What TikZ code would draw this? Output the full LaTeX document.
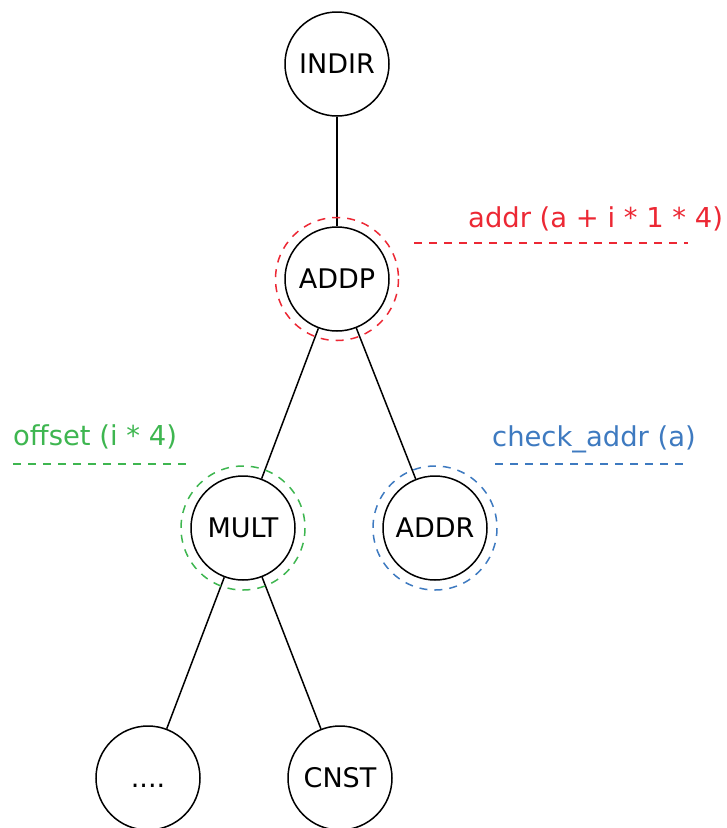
\documentclass[tikz,border=0pt]{standalone}
\usepackage{fontspec}
\setmainfont{DejaVu Sans}
\definecolor{annred}{RGB}{236,40,52}
\definecolor{anngreen}{RGB}{62,182,80}
\definecolor{annblue}{RGB}{62,122,192}
\begin{document}
\begin{tikzpicture}[x=1pt,y=-1pt,
  treenode/.style={circle,draw,line width=1.5pt,minimum size=104pt,inner sep=0pt,
    font=\fontsize{27}{32}\selectfont,text height=19.7pt,text depth=0pt},
  edge/.style={line width=1.5pt},
  ring/.style={line width=1.5pt,dash pattern=on 8pt off 7pt},
  ann/.style={anchor=base west,inner sep=0pt,font=\fontsize{27.4}{32}\selectfont}]
\useasboundingbox (0,0) rectangle (727,828);

% tree nodes
\node[treenode] (indir) at (337,64)  {INDIR};
\node[treenode] (addp)  at (337,279) {ADDP};
\node[treenode] (mult)  at (243,528) {MULT};
\node[treenode] (addr)  at (435,528) {ADDR};
\node[treenode] (dots)  at (148,778) {....};
\node[treenode] (cnst)  at (340,778) {CNST};

% tree edges
\draw[edge] (indir) -- (addp);
\draw[edge] (addp) -- (mult);
\draw[edge] (addp) -- (addr);
\draw[edge] (mult) -- (dots);
\draw[edge] (mult) -- (cnst);

% dashed rings marking the matched subtrees
\draw[ring,annred]   (addp.center) circle[radius=61.5];
\draw[ring,anngreen] (mult.center) circle[radius=62];
\draw[ring,annblue]  (addr.center) circle[radius=62];

% annotations with their dashed underlines
\node[ann,text=annred]   (lred)   at (468,227) {addr (a + i * 1 * 4)};
\node[ann,text=anngreen] (lgreen) at (13,445)  {offset (i * 4)};
\node[ann,text=annblue]  (lblue)  at (492,446) {check\_addr (a)};

\draw[ring,annred]   (414,243) -- (688,243);
\draw[ring,anngreen] (13,464)  -- (192,464);
\draw[ring,annblue]  (495,464) -- (688,464);
\end{tikzpicture}
\end{document}
